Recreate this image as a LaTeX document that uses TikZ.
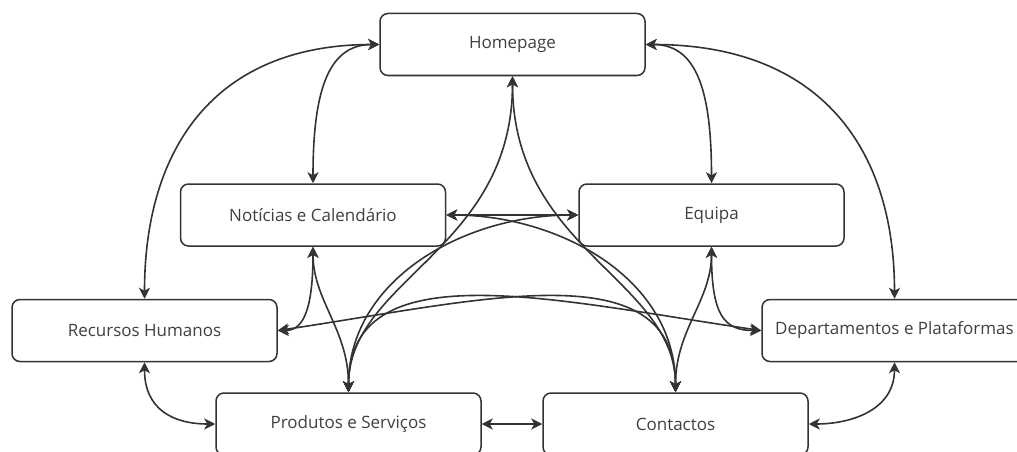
\documentclass[tikz,border=0pt]{standalone}
\usepackage{fontspec}
\setmainfont{Open Sans}
\usetikzlibrary{arrows.meta}
\definecolor{edgecol}{HTML}{333333}
\definecolor{labelcol}{HTML}{404040}
\pgfdeclarelayer{wires}
\pgfsetlayers{wires,main}
\begin{document}
\begin{tikzpicture}[x=1pt,y=-1pt,
  page/.style={draw=edgecol, line width=1.5pt, rounded corners=8pt,
    minimum width=265pt, minimum height=62pt, inner sep=0pt, fill=white,
    font=\fontsize{17}{20}\selectfont, text=labelcol},
  conn/.style={draw=edgecol, line width=1.6pt,
    {Stealth[length=11pt,width=11pt,inset=3pt]}-{Stealth[length=11pt,width=11pt,inset=3pt]}}]
\clip (0,0) rectangle (1017,452);

% pages of the site
\node[page] (home)  at (512.5,44.5) {Homepage};
\node[page] (news)  at (313,215)    {Notícias e Calendário};
\node[page] (team)  at (711.5,215)  {Equipa};
\node[page] (hr)    at (144.5,330.5){Recursos Humanos};
\node[page] (dept)  at (894.5,330.5){Departamentos e Plataformas};
\node[page] (prod)  at (348.5,424)  {Produtos e Serviços};
\node[page] (cont)  at (675.5,424)  {Contactos};

\begin{pgfonlayer}{wires}
% links from the homepage
\draw[conn] (home.west) .. controls +(-165,0) and +(0,-150) .. (hr.north);
\draw[conn] (home.west) .. controls +(-50,0) and +(0,-95) .. (news.north);
\draw[conn] (home.east) .. controls +(50,0) and +(0,-95) .. (team.north);
\draw[conn] (home.east) .. controls +(175,0) and +(0,-150) .. (dept.north);
\draw[conn] (home.south) .. controls +(0,174) and +(0,-113) .. (prod.north);
\draw[conn] (home.south) .. controls +(0,174) and +(0,-113) .. (cont.north);
% news and team
\draw[conn] (news.east) -- (team.west);
\draw[conn] (news.east) .. controls +(114,0) and +(0,-113) .. (cont.north);
\draw[conn] (team.west) .. controls +(-114,0) and +(0,-113) .. (prod.north);
\draw[conn] (news.south) .. controls +(0,69) and +(23,0) .. (hr.east);
\draw[conn] (news.south) .. controls +(0,54) and +(0,-63) .. (prod.north);
\draw[conn] (team.south) .. controls +(0,69) and +(-37,0) .. (dept.west);
\draw[conn] (team.south) .. controls +(0,54) and +(0,-63) .. (cont.north);
% cross links
\draw[conn] (hr.east) .. controls +(203,-30) and +(0,-143) .. (cont.north);
\draw[conn] (dept.west) .. controls +(-207,-30) and +(0,-143) .. (prod.north);
% bottom row
\draw[conn] (hr.south) .. controls +(0,48) and +(-41,0) .. (prod.west);
\draw[conn] (prod.east) -- (cont.west);
\draw[conn] (dept.south) .. controls +(0,48) and +(42,0) .. (cont.east);
\end{pgfonlayer}
\end{tikzpicture}
\end{document}
